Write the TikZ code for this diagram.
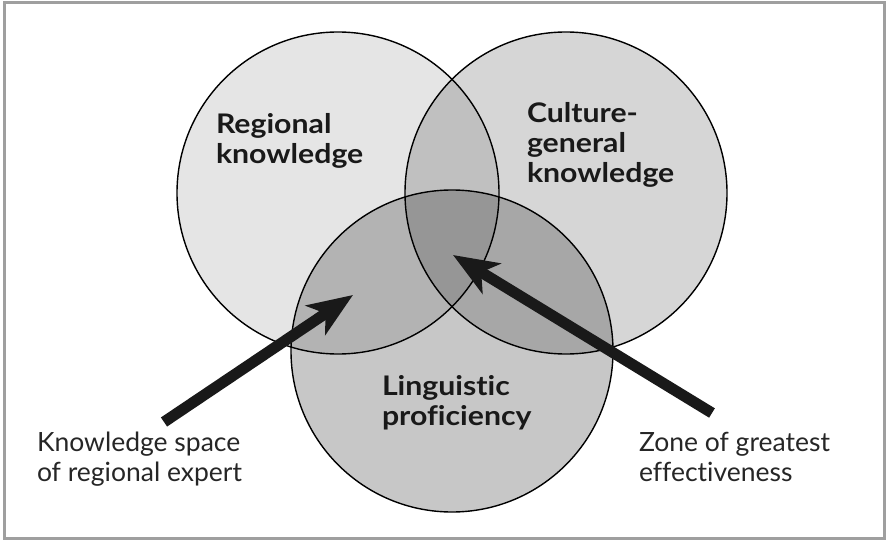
\documentclass[tikz,border=0pt]{standalone}
\usepackage{fontspec}
\setmainfont{Lato}[Ligatures=NoCommon, FakeStretch=1.12]
\newfontfamily\notefont{Lato}[Ligatures=NoCommon]
\usetikzlibrary{arrows.meta}

\begin{document}
\begin{tikzpicture}[x=1pt, y=-1pt, inner sep=0pt, outer sep=0pt,
    every node/.style={align=left, anchor=north west}]

  \tikzstyle{set}=[draw=black, line width=1.4pt]
  \tikzstyle{setlabel}=[font=\fontsize{27}{30}\selectfont\bfseries, text=black!90]
  \tikzstyle{note}=[font=\notefont\fontsize{26.5}{30}\selectfont, text=black!85]
  \tikzstyle{pointer}=[line width=11pt, black!90,
    -{Stealth[length=45pt, width=35pt, inset=12pt]}]

  % frame and picture size
  \useasboundingbox (0,0) rectangle (886,540);
  \draw[gray!75, line width=3pt] (4.5,2.5) rectangle (884.5,538);

  % the three sets
  \coordinate (REG) at (338,193);
  \coordinate (CUL) at (566,193);
  \coordinate (LIN) at (452,351);
  \fill[black, opacity=0.10] (REG) circle (161);
  \fill[black, opacity=0.16] (CUL) circle (161);
  \fill[black, opacity=0.22] (LIN) circle (161);
  \draw[set] (REG) circle (161);
  \draw[set] (CUL) circle (161);
  \draw[set] (LIN) circle (161);

  \node[setlabel] (regional) at (216,113) {Regional\\knowledge};
  \node[setlabel] (culture) at (527,102) {Culture-\\general\\knowledge};
  \node[setlabel] (linguistic) at (382,375) {Linguistic\\proficiency};

  \node[note] (expert) at (37,432) {Knowledge space\\of regional expert};
  \node[note] (zone) at (639,432) {Zone of greatest\\effectiveness};

  % pointers
  \coordinate (expertTail) at (164,422);
  \coordinate (expertTip) at (353,295);
  \coordinate (zoneTail) at (712,413);
  \coordinate (zoneTip) at (453,255);
  \draw[pointer] (expertTail) -- (expertTip);
  \draw[pointer] (zoneTail) -- (zoneTip);
\end{tikzpicture}
\end{document}
